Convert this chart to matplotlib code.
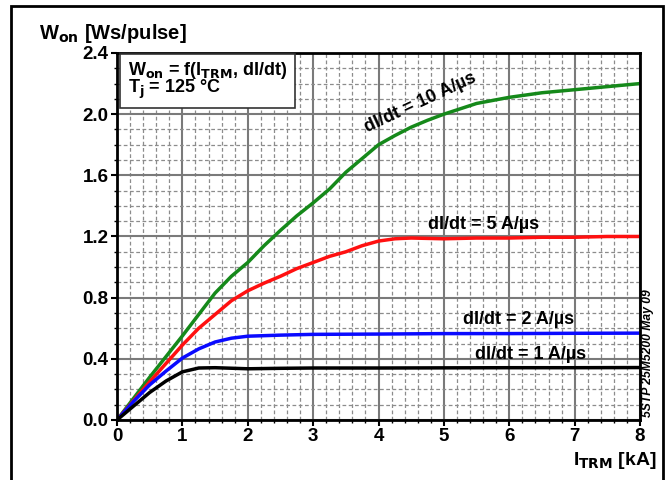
import matplotlib
matplotlib.use("Agg")
import matplotlib.pyplot as plt
from matplotlib.patches import Rectangle
from matplotlib.ticker import MultipleLocator

plt.rcParams['font.family'] = ['Liberation Sans', 'DejaVu Sans']
plt.rcParams['font.weight'] = 'bold'
plt.rcParams['mathtext.default'] = 'bf'

# values (I_TRM in kA, W_on in Ws/pulse)
i_10 = [0, 0.25, 0.5, 0.75, 1.0, 1.25, 1.5, 1.75, 2.0, 2.25, 2.5, 2.75, 3.0, 3.25,
        3.5, 3.75, 4.0, 4.25, 4.5, 4.75, 5.0, 5.5, 6.0, 6.5, 7.0, 7.5, 8.0]
w_10 = [0, 0.14, 0.28, 0.415, 0.55, 0.69, 0.83, 0.94, 1.03, 1.14, 1.24, 1.335, 1.42, 1.51,
        1.62, 1.71, 1.80, 1.86, 1.915, 1.96, 2.0, 2.07, 2.11, 2.14, 2.16, 2.18, 2.20]

i_5 = [0, 0.25, 0.5, 0.75, 1.0, 1.25, 1.5, 1.75, 2.0, 2.25, 2.5, 2.75, 3.0, 3.25,
       3.5, 3.75, 4.0, 4.25, 4.5, 5.0, 5.5, 6.0, 6.5, 7.0, 7.5, 8.0]
w_5 = [0, 0.125, 0.25, 0.37, 0.49, 0.60, 0.69, 0.78, 0.845, 0.895, 0.94, 0.99, 1.03, 1.07,
       1.10, 1.14, 1.17, 1.185, 1.19, 1.185, 1.19, 1.19, 1.195, 1.195, 1.20, 1.20]

i_2 = [0, 0.25, 0.5, 0.75, 1.0, 1.25, 1.5, 1.75, 2.0, 2.5, 3.0, 4.0, 5.0, 6.0, 7.0, 8.0]
w_2 = [0, 0.12, 0.23, 0.32, 0.405, 0.465, 0.51, 0.535, 0.548, 0.555, 0.56, 0.562,
       0.565, 0.565, 0.567, 0.568]

i_1 = [0, 0.25, 0.5, 0.75, 1.0, 1.25, 1.5, 2.0, 2.5, 3.0, 4.0, 5.0, 6.0, 7.0, 8.0]
w_1 = [0, 0.09, 0.18, 0.255, 0.315, 0.34, 0.342, 0.335, 0.338, 0.34, 0.34, 0.341,
       0.342, 0.342, 0.343]

x_ticks = [0, 1, 2, 3, 4, 5, 6, 7, 8]
y_ticks = [0.0, 0.4, 0.8, 1.2, 1.6, 2.0, 2.4]
y_labels = ["0.0", "0.4", "0.8", "1.2", "1.6", "2.0", "2.4"]

fig = plt.figure(figsize=(6.69, 4.8), dpi=100)
ax = fig.add_axes([0.1749, 0.125, 0.7818, 0.7646])

# outer frame
fig.patches.append(Rectangle((0.0164, -0.05), 0.9746, 1.0375, transform=fig.transFigure,
                             fill=False, edgecolor='black', linewidth=2))

ax.set_xlim(0, 8)
ax.set_ylim(0, 2.4)
ax.set_xticks(x_ticks)
ax.set_yticks(y_ticks)
ax.set_yticklabels(y_labels)
ax.xaxis.set_minor_locator(MultipleLocator(0.2))
ax.yaxis.set_minor_locator(MultipleLocator(0.1))
ax.grid(which='major', color='#7a7a7a', linewidth=1.5, linestyle='-')
ax.grid(which='minor', color='#8c8c8c', linewidth=0.9, linestyle=(0, (3, 2)))
ax.set_axisbelow(True)
ax.tick_params(which='major', direction='out', length=4, width=1.5, labelsize=13.5, pad=2)
ax.tick_params(which='minor', direction='out', length=2, width=1)
for lab in ax.get_xticklabels() + ax.get_yticklabels():
    lab.set_fontweight('bold')
for sp in ax.spines.values():
    sp.set_linewidth(2)

ax.plot(i_10, w_10, color='#15891a', linewidth=2.5, solid_capstyle='round')
ax.plot(i_5, w_5, color='#ff1010', linewidth=2.5, solid_capstyle='round')
ax.plot(i_2, w_2, color='#0a0aff', linewidth=2.5, solid_capstyle='round')
ax.plot(i_1, w_1, color='black', linewidth=2.5, solid_capstyle='round')

lab_kw = dict(fontsize=13, fontweight='bold', ha='center', va='center')
ax.text(4.64, 2.075, "dI/dt = 10 A/µs", rotation=25, rotation_mode='anchor', **lab_kw)
ax.text(5.61, 1.28, "dI/dt = 5 A/µs", **lab_kw)
ax.text(6.14, 0.655, "dI/dt = 2 A/µs", **lab_kw)
ax.text(6.33, 0.43, "dI/dt = 1 A/µs", **lab_kw)

ax.text(0.021, 0.982, "W$_{on}$ = f(I$_{TRM}$, dI/dt)\nT$_{j}$ = 125 °C",
        transform=ax.transAxes, fontsize=13, fontweight='bold', ha='left', va='top',
        linespacing=0.8,
        bbox=dict(boxstyle='square,pad=0.42', facecolor='white', edgecolor='#333333',
                  linewidth=1.2))

ax.text(-0.149, 1.054, "W$_{on}$ [Ws/pulse]", transform=ax.transAxes,
        fontsize=14.5, fontweight='bold', ha='left', va='center')
ax.text(1.0325, -0.109, "I$_{TRM}$ [kA]", transform=ax.transAxes,
        fontsize=14, fontweight='bold', ha='right', va='center')
ax.text(1.016, 0.008, "5STP 25M5200 May 09", transform=ax.transAxes,
        fontsize=8.7, fontweight='bold', fontstyle='italic', rotation=90,
        ha='center', va='bottom')

fig.savefig("out.png", dpi=100)
